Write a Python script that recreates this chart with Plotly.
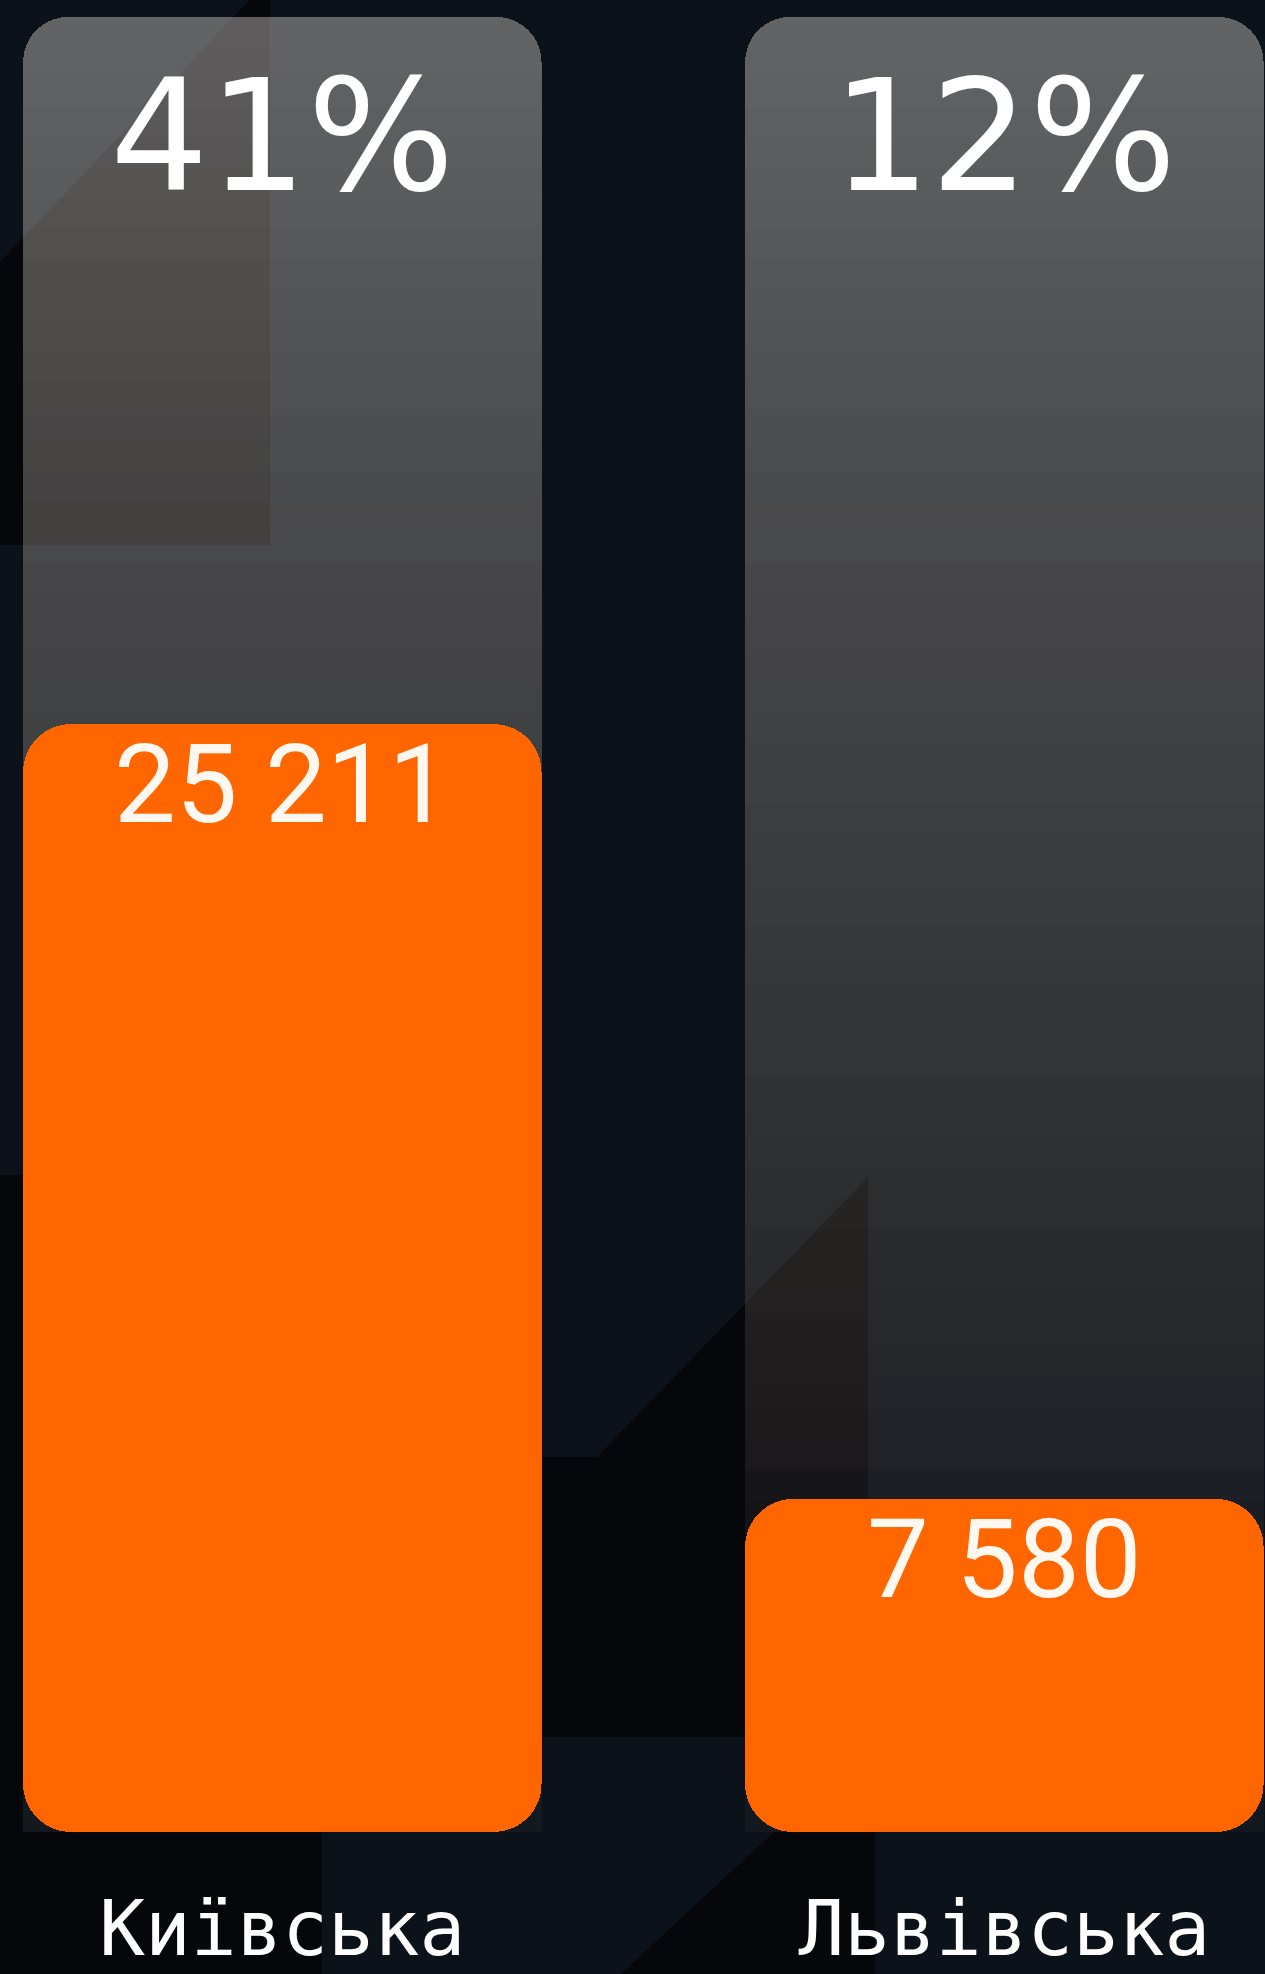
import plotly.graph_objects as go

# ---------------- data ----------------
categories = ["Київська", "Львівська"]
values = [25211, 7580]
percents = ["41%", "12%"]
scale_max = 41300  # full height of the translucent track

# ---------------- style ----------------
ORANGE = "#ff6600"
BG = (12, 18, 26)
BG_HEX = "#0c121a"
DARK = "#05070b"
BAR_W = 0.718
N_BANDS = 60
W, H = 1265, 1974
MB = 142          # bottom margin
PH = H - MB       # plot-area height in px
MIN_RGB = (255, 215, 192)   # limit on how warm the translucent overlay may get

# apparent grey level of the track (over the navy background) by fraction of its height
grey_stops = [
    (1.00, 100),
    (0.74, 74),
    (0.53, 59),
    (0.326, 43),
    (0.21, 34),
    (0.186, 28),
    (0.00, 20),
]


def track_color(f):
    t = grey_stops[-1][1]
    for (f1, g1), (f0, g0) in zip(grey_stops[:-1], grey_stops[1:]):
        if f0 <= f <= f1:
            t = g0 + (g1 - g0) * (f - f0) / (f1 - f0)
            break
    target = (t, t + 1, t + 3)
    a = (target[0] - BG[0]) / (255 - BG[0])
    rgb = [min(255, max(lo, round((tc - (1 - a) * bc) / a)))
           for tc, bc, lo in zip(target, BG, MIN_RGB)]
    return "rgba(%d,%d,%d,%.4f)" % (*rgb, a)


def fmt(v):
    return f"{v:,}".replace(",", " ")


fig = go.Figure()

# translucent track: stacked bands, rounded on top of the stack
band = scale_max / N_BANDS
for k in range(N_BANDS):
    f_mid = (k + 0.5) / N_BANDS
    fig.add_trace(go.Bar(
        x=categories, y=[band] * len(categories), width=BAR_W,
        marker=dict(color=track_color(f_mid), cornerradius=45, line=dict(width=0)),
        hoverinfo="skip",
    ))

# orange bars on an overlaid axis pair (explicit base -> all four corners rounded)
fig.add_trace(go.Bar(
    x=categories, y=values, base=[0] * len(values), width=BAR_W,
    xaxis="x2", yaxis="y2",
    marker=dict(color=ORANGE, cornerradius=48, line=dict(width=0)),
    hovertemplate="%{x}: %{y}<extra></extra>",
))

# value labels at the top inside each orange bar
for c, v in zip(categories, values):
    fig.add_annotation(
        x=c, y=v, xref="x", yref="y", text=fmt(v), showarrow=False,
        yanchor="top", yshift=6,
        font=dict(family="Roboto, Liberation Sans, sans-serif", size=110, color="#fff8f0"),
    )

# percentage labels at the top of each track
for c, p in zip(categories, percents):
    fig.add_annotation(
        x=c, y=scale_max, xref="x", yref="y", text=p, showarrow=False,
        yanchor="top", yshift=-27,
        font=dict(family="DejaVu Sans, sans-serif", size=155, color="white"),
    )


# decorative low-poly background (pixel positions -> paper coordinates of the plot area)
def poly(points, color):
    d = "M " + " L ".join(f"{x / W:.4f},{(PH - y) / PH:.4f}" for x, y in points) + " Z"
    fig.add_shape(type="path", path=d, xref="paper", yref="paper",
                  fillcolor=color, line=dict(width=0), layer="below")


poly([(0, 262), (250, 0), (270, 0), (270, 545), (0, 545)], DARK)
poly([(0, 1175), (23, 1175), (23, 1832), (322, 1832), (322, 1974), (0, 1974)], DARK)
poly([(541, 1457), (597, 1457), (868, 1177), (868, 1737), (541, 1737)], DARK)
poly([(774, 1832), (875, 1832), (875, 1974), (621, 1974)], DARK)

x_range = [-0.391, 1.361]
y_range = [0, scale_max * PH / (PH - 17)]

fig.update_layout(
    width=W, height=H,
    margin=dict(l=0, r=0, t=0, b=MB, pad=0),
    paper_bgcolor=BG_HEX, plot_bgcolor="rgba(0,0,0,0)",
    barmode="stack", showlegend=False,
    xaxis=dict(
        type="category", range=x_range, automargin=False,
        showgrid=False, zeroline=False, showline=False, ticks="",
        tickfont=dict(family="DejaVu Sans Mono, monospace", size=76, color="white"),
        ticklabelstandoff=46, fixedrange=True,
    ),
    yaxis=dict(visible=False, range=y_range, fixedrange=True, automargin=False),
    xaxis2=dict(type="category", range=x_range, overlaying="x", visible=False,
                fixedrange=True, automargin=False),
    yaxis2=dict(range=y_range, overlaying="y", visible=False,
                fixedrange=True, automargin=False),
)

fig.write_html(
    "out.html",
    config={"displayModeBar": False},
    post_script="document.body.style.margin='0';document.body.style.background='#0c121a';",
)
